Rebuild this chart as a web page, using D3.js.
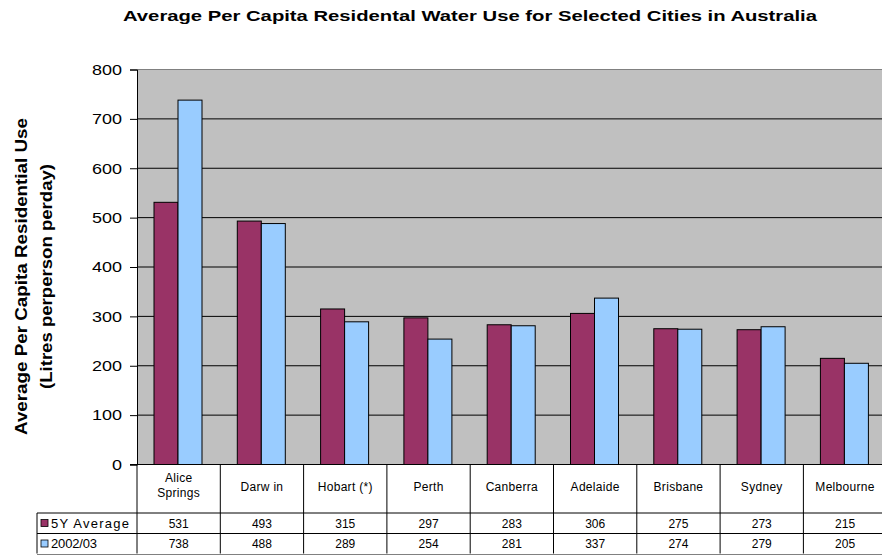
<!DOCTYPE html>
<html>
<head>
<meta charset="utf-8">
<script src="https://cdn.jsdelivr.net/npm/d3@7"></script>
<style>
  html, body { margin: 0; padding: 0; background: #fff; }
  svg { display: block; font-family: "Liberation Sans", Arial, sans-serif; }
</style>
</head>
<body>
<svg id="chart" width="882" height="556"></svg>
<script>
// Cities and the two series (litres per person per day)
const cities = ["Alice Springs", "Darw in", "Hobart (*)", "Perth", "Canberra", "Adelaide", "Brisbane", "Sydney", "Melbourne"];
const fiveYearAverage = [531, 493, 315, 297, 283, 306, 275, 273, 215];
const year2002 = [738, 488, 289, 254, 281, 337, 274, 279, 205];
const seriesNames = ["5Y Average", "2002/03"];
const seriesColors = ["#993366", "#99CCFF"];
const yTicks = [0, 100, 200, 300, 400, 500, 600, 700, 800];

const seriesValues = [fiveYearAverage, year2002];
const svg = d3.select("#chart");

const plotLeft = 137, plotTop = 69.5, plotBottom = 464.5;
const step = 83.3;
const plotRight = plotLeft + step * cities.length;

const x = d3.scaleBand().domain(cities).range([plotLeft, plotRight]).padding(0);
const xs = d3.scaleBand().domain(seriesNames).range([17, 65]).padding(0);
const y = d3.scaleLinear().domain([0, 800]).range([plotBottom, plotTop]);

// Title
svg.append("text")
  .attr("x", 123).attr("y", 20.5)
  .attr("font-weight", "bold")
  .attr("font-size", 15.5)
  .attr("textLength", 694)
  .attr("lengthAdjust", "spacingAndGlyphs")
  .text("Average Per Capita Residental Water Use for Selected Cities in Australia");

// Plot background
svg.append("rect")
  .attr("x", plotLeft).attr("y", plotTop)
  .attr("width", plotRight - plotLeft).attr("height", plotBottom - plotTop)
  .attr("fill", "#C0C0C0");

// Gridlines
svg.append("g")
  .selectAll("line")
  .data(yTicks.filter(d => d > 0 && d < 800))
  .join("line")
  .attr("x1", plotLeft).attr("x2", plotRight)
  .attr("y1", d => y(d)).attr("y2", d => y(d))
  .attr("stroke", "#000").attr("stroke-width", 1);

svg.append("line")
  .attr("x1", plotLeft).attr("x2", plotRight)
  .attr("y1", plotTop).attr("y2", plotTop)
  .attr("stroke", "#808080").attr("stroke-width", 1);

// Bars
const groups = svg.append("g")
  .selectAll("g")
  .data(cities)
  .join("g")
  .attr("transform", d => `translate(${x(d)},0)`);

groups.selectAll("rect")
  .data((c, i) => seriesNames.map((s, k) => ({ s, v: seriesValues[k][i], k })))
  .join("rect")
  .attr("x", d => xs(d.s))
  .attr("width", xs.bandwidth())
  .attr("y", d => y(d.v))
  .attr("height", d => y(0) - y(d.v))
  .attr("fill", d => seriesColors[d.k])
  .attr("stroke", "#000")
  .attr("stroke-width", 1);

// Y axis
const yAxis = d3.axisLeft(y).tickValues(yTicks).tickSize(7).tickPadding(8);
const yg = svg.append("g")
  .attr("transform", `translate(${plotLeft},0)`)
  .call(yAxis);
yg.select(".domain").attr("stroke", "#000");
yg.selectAll(".tick line").attr("stroke", "#000");
yg.selectAll(".tick text")
  .attr("font-size", 15)
  .attr("font-family", "Liberation Sans, Arial, sans-serif")
  .attr("fill", "#000")
  .attr("textLength", d => String(d).length * 10)
  .attr("lengthAdjust", "spacingAndGlyphs");

// Y axis title
const yTitle = svg.append("text")
  .attr("transform", "translate(0,276.5) rotate(-90)")
  .attr("text-anchor", "middle")
  .attr("font-weight", "bold")
  .attr("font-size", 16);
yTitle.append("tspan").attr("x", 0).attr("y", 26.5)
  .attr("textLength", 317).attr("lengthAdjust", "spacingAndGlyphs")
  .text("Average Per Capita Residential Use");
yTitle.append("tspan").attr("x", 0).attr("y", 51.5)
  .attr("textLength", 225).attr("lengthAdjust", "spacingAndGlyphs")
  .text("(Litres perperson perday)");

// Data table
const headerBottom = 513, row1Bottom = 533.5, row2Bottom = 553.5;
const legendLeft = 37;
const table = svg.append("g");

// Column separators through the header and data rows
table.selectAll("line.col")
  .data(d3.range(cities.length + 1))
  .join("line")
  .attr("class", "col")
  .attr("x1", i => plotLeft + i * step).attr("x2", i => plotLeft + i * step)
  .attr("y1", plotBottom).attr("y2", row2Bottom)
  .attr("stroke", "#000");

// Row separators
[headerBottom, row1Bottom].forEach(yy => {
  table.append("line")
    .attr("x1", legendLeft).attr("x2", plotRight)
    .attr("y1", yy).attr("y2", yy)
    .attr("stroke", "#000");
});
table.append("line")
  .attr("x1", legendLeft).attr("x2", plotRight)
  .attr("y1", row2Bottom + 1).attr("y2", row2Bottom + 1)
  .attr("stroke", "#808080");
table.append("line")
  .attr("x1", legendLeft).attr("x2", legendLeft)
  .attr("y1", headerBottom).attr("y2", row2Bottom)
  .attr("stroke", "#000");

// X axis line on top of the table
svg.append("line")
  .attr("x1", plotLeft - 7).attr("x2", plotRight)
  .attr("y1", plotBottom).attr("y2", plotBottom)
  .attr("stroke", "#000");

// Category headers
cities.forEach(c => {
  const cx = x(c) + step / 2;
  const words = c === "Alice Springs" ? ["Alice", "Springs"] : [c];
  const t = table.append("text")
    .attr("text-anchor", "middle")
    .attr("font-size", 12)
    .attr("letter-spacing", 0.3)
    .attr("fill", "#000");
  if (words.length === 2) {
    t.append("tspan").attr("x", cx).attr("y", 482).text(words[0]);
    t.append("tspan").attr("x", cx).attr("y", 497).text(words[1]);
  } else {
    t.attr("x", cx).attr("y", 490.5).text(c);
  }
});

// Legend keys and values
const rowBase = [527.5, 548];
seriesNames.forEach((s, k) => {
  table.append("rect")
    .attr("x", legendLeft + 4).attr("y", rowBase[k] - 8)
    .attr("width", 7).attr("height", 7)
    .attr("fill", seriesColors[k]).attr("stroke", "#000").attr("stroke-width", 0.8);
  table.append("text")
    .attr("x", legendLeft + 14).attr("y", rowBase[k])
    .attr("font-size", 13)
    .attr("textLength", k === 0 ? 78 : 46)
    .attr("lengthAdjust", "spacing")
    .text(s);
  cities.forEach((c, i) => {
    table.append("text")
      .attr("x", x(c) + step / 2).attr("y", rowBase[k])
      .attr("text-anchor", "middle")
      .attr("font-size", 12)
      .text(seriesValues[k][i]);
  });
});
</script>
</body>
</html>
